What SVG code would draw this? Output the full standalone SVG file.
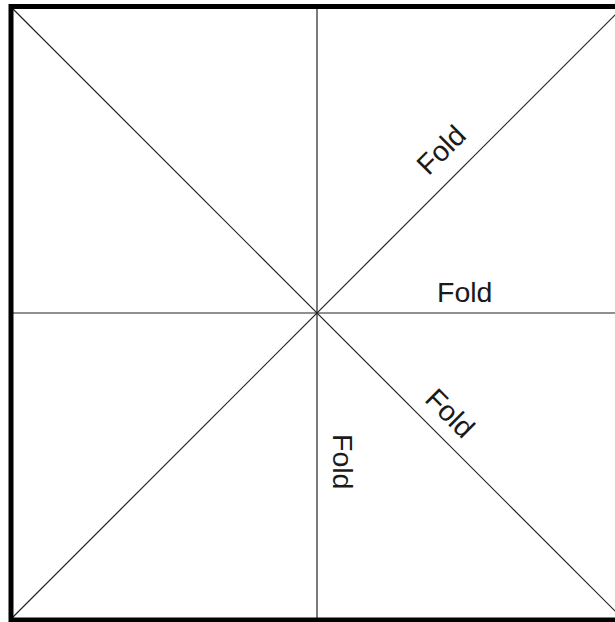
<svg xmlns="http://www.w3.org/2000/svg" width="615" height="622" viewBox="0 0 615 622">
<style>
.fold{stroke:#222;stroke-width:1.2;fill:none}
.lbl{font-family:"Liberation Sans",Arial,sans-serif;font-size:28.5px;fill:#1a1a1a}
</style>
<rect width="615" height="622" fill="#fff"/>
<g id="connectors">
<line class="fold" x1="11" y1="7" x2="623" y2="619"/>
<line class="fold" x1="11" y1="619" x2="623" y2="7"/>
<line class="fold" x1="317" y1="7" x2="317" y2="619" stroke="#444"/>
<line class="fold" x1="11" y1="313" x2="623" y2="313" stroke="#444"/>
</g>
<g id="square">
<rect x="11" y="6.5" width="612" height="613.5" fill="none" stroke="#000" stroke-width="5"/>
</g>
<g id="label-diag-top">
<text class="lbl" text-anchor="middle" transform="translate(448,157) rotate(-45)">Fold</text>
</g>
<g id="label-horizontal">
<text class="lbl" x="437" y="302">Fold</text>
</g>
<g id="label-diag-bottom">
<text class="lbl" text-anchor="middle" transform="translate(443,420) rotate(45)">Fold</text>
</g>
<g id="label-vertical">
<text class="lbl" transform="translate(333,434) rotate(90)">Fold</text>
</g>
</svg>
